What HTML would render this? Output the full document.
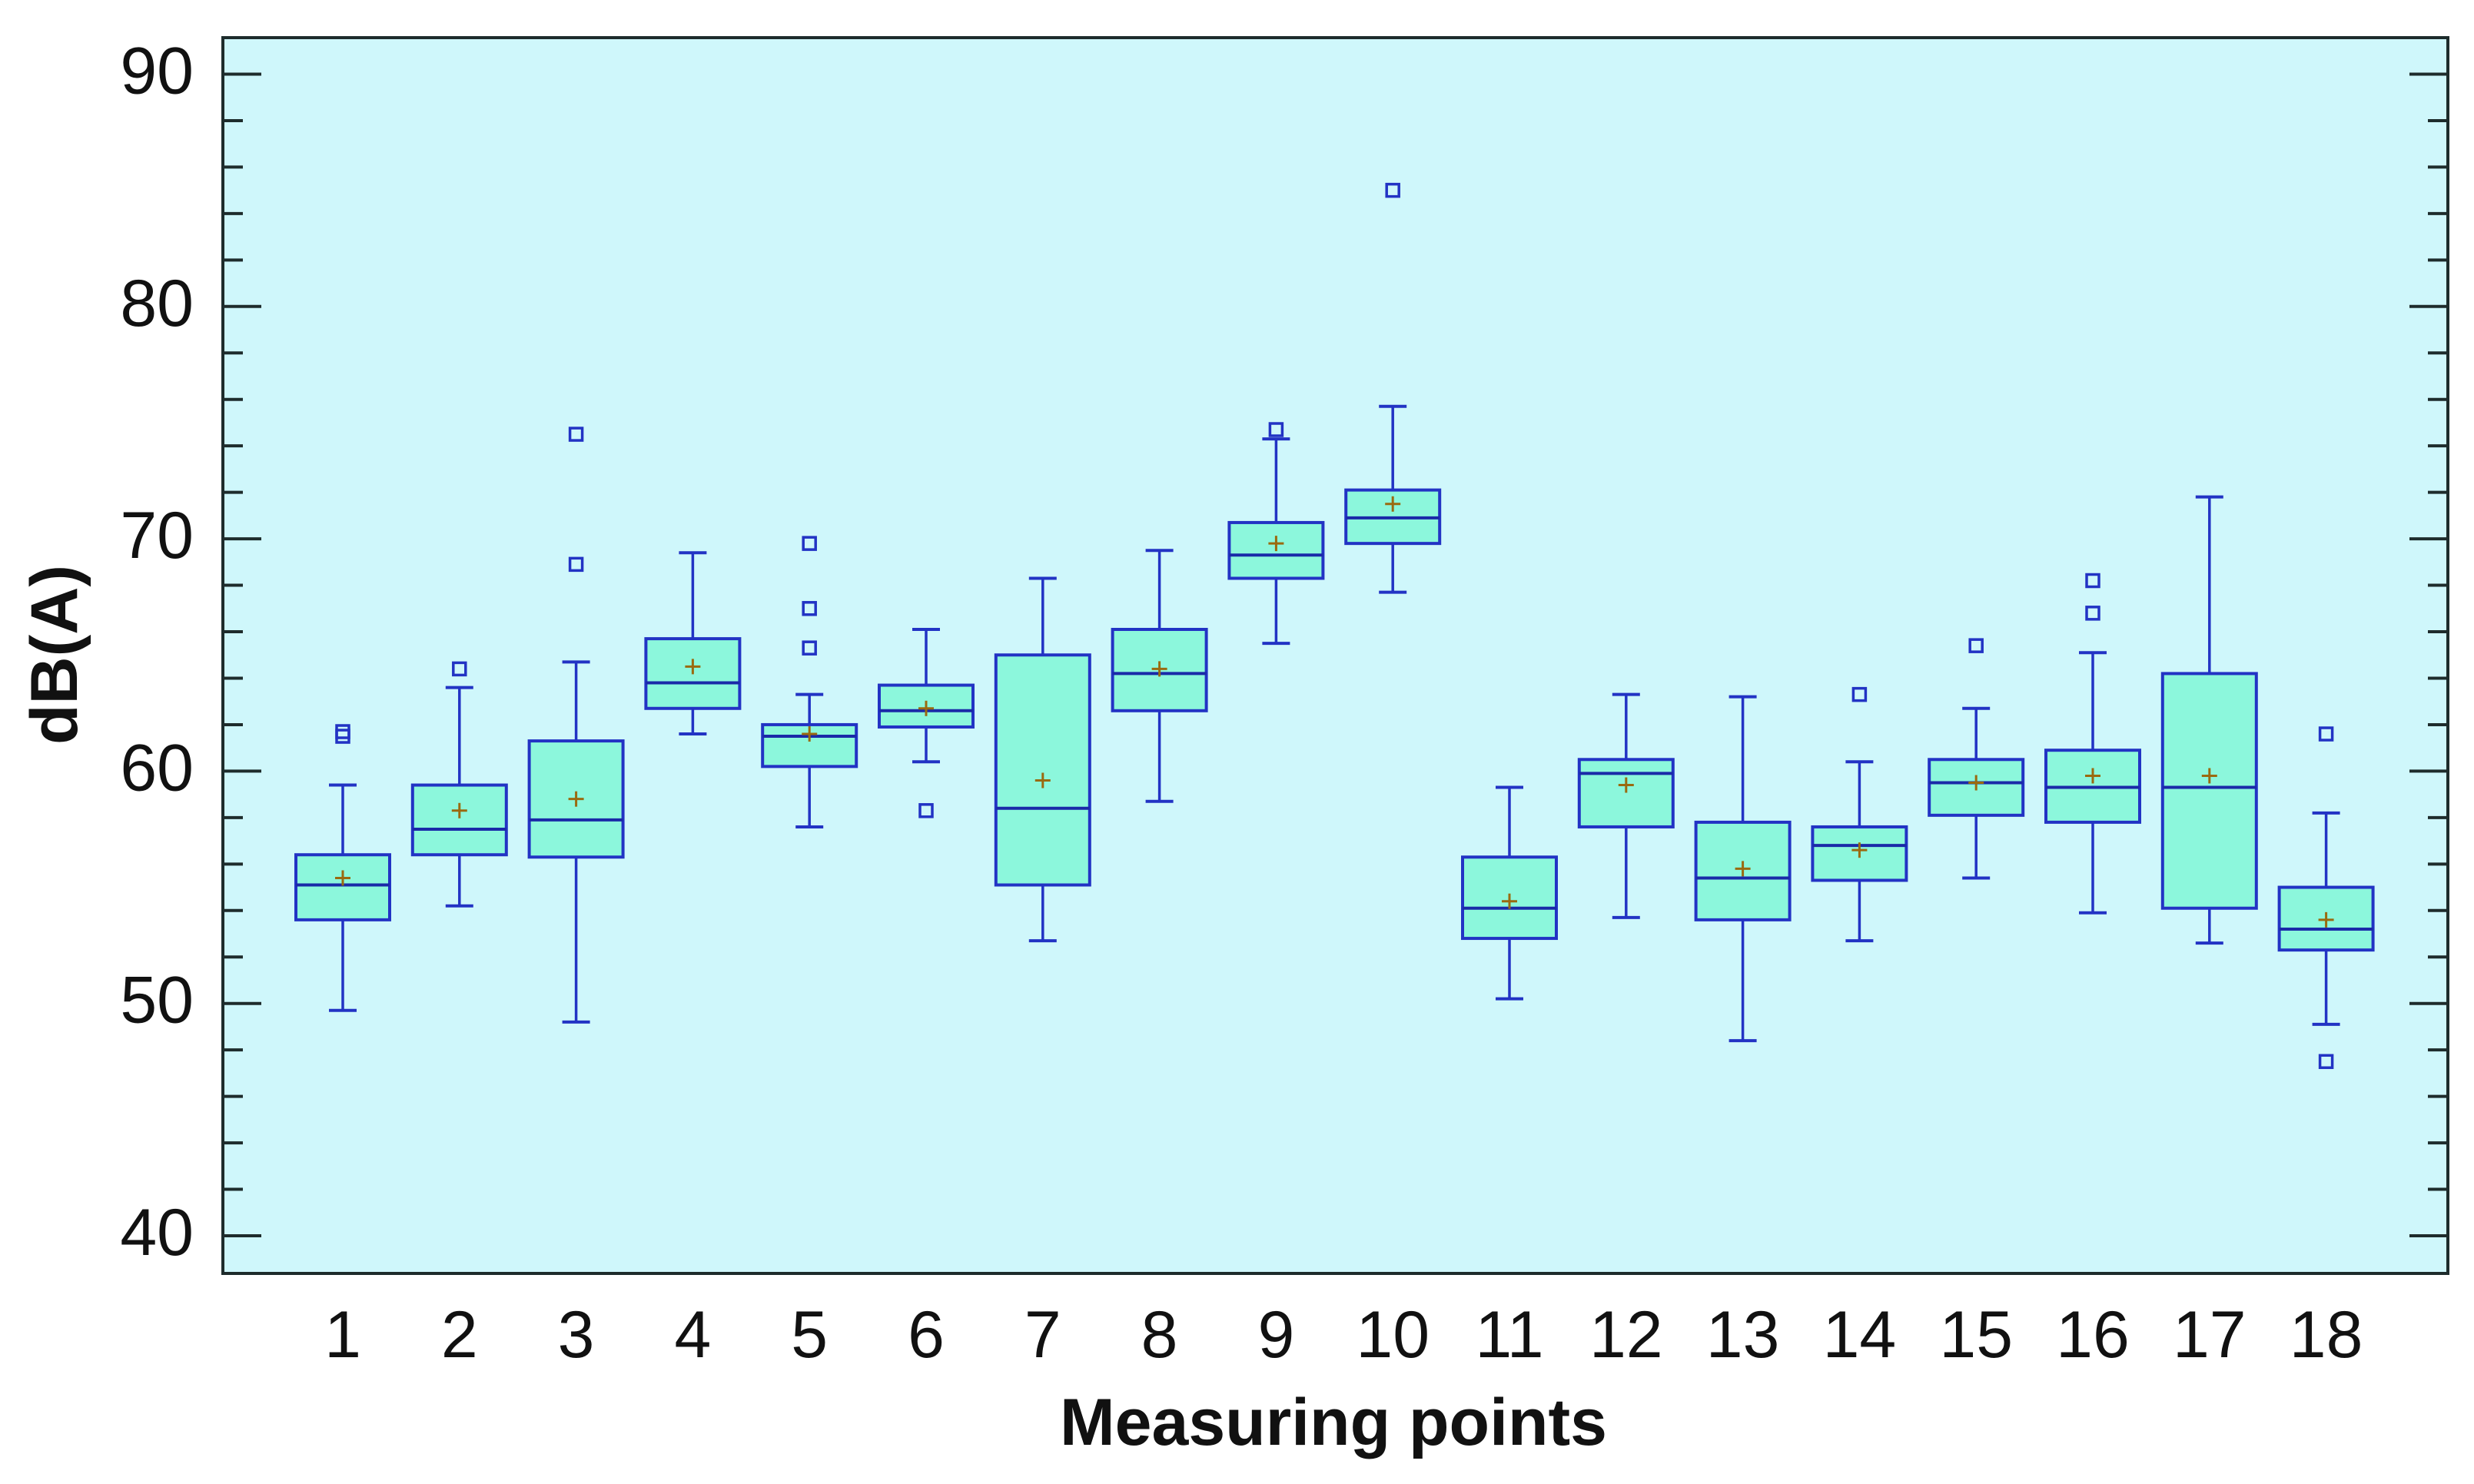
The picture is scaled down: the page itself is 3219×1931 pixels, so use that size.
<!DOCTYPE html>
<html><head><meta charset="utf-8"><style>
html,body{margin:0;padding:0;background:#fff;}
svg{display:block;font-family:"Liberation Sans",Arial,sans-serif;}
</style></head><body>
<svg id="chart" width="3219" height="1931" viewBox="0 0 3219 1931" xmlns="http://www.w3.org/2000/svg">
<rect x="290" y="49" width="2895" height="1608" fill="#cff7fb"/>
<g id="axes"></g>
<g id="marks"></g>
<rect x="290" y="49" width="2895" height="1608" fill="none" stroke="#1e2c2c" stroke-width="4"/>
<text x="1735" y="1880" font-size="86" font-weight="bold" text-anchor="middle" fill="#111">Measuring points</text>
<text transform="translate(100,852) rotate(-90)" font-size="86" font-weight="bold" text-anchor="middle" fill="#111">dB(A)</text>
</svg>
<script>
const categories = ["1","2","3","4","5","6","7","8","9","10","11","12","13","14","15","16","17","18"];
const whiskerLow = [49.7,54.2,49.2,61.6,57.6,60.4,52.7,58.7,65.5,67.7,50.2,53.7,48.4,52.7,55.4,53.9,52.6,49.1];
const q1 = [53.6,56.4,56.3,62.7,60.2,61.9,55.1,62.6,68.3,69.8,52.8,57.6,53.6,55.3,58.1,57.8,54.1,52.3];
const medians = [55.1,57.5,57.9,63.8,61.5,62.6,58.4,64.2,69.3,70.9,54.1,59.9,55.4,56.8,59.5,59.3,59.3,53.2];
const q3 = [56.4,59.4,61.3,65.7,62.0,63.7,65.0,66.1,70.7,72.1,56.3,60.5,57.8,57.6,60.5,60.9,64.2,55.0];
const whiskerHigh = [59.4,63.6,64.7,69.4,63.3,66.1,68.3,69.5,74.3,75.7,59.3,63.3,63.2,60.4,62.7,65.1,71.8,58.2];
const means = [55.4,58.3,58.8,64.5,61.6,62.7,59.6,64.4,69.8,71.5,54.4,59.4,55.8,56.6,59.5,59.8,59.8,53.6];
const outliers = [[61.7,61.5],[64.4],[74.5,68.9],[],[69.8,67.0,65.3],[58.3],[],[],[74.7],[85.0],[],[],[],[63.3],[65.4],[68.2,66.8],[],[61.6,47.5]];
const yTicks = [40,50,60,70,80,90];

const NS="http://www.w3.org/2000/svg";
const yMin=40,yMax=90,yTop=96.5,yBot=1608;
function yScale(v){return yBot-(v-yMin)*(yBot-yTop)/(yMax-yMin);}
function xScale(i){return 446+i*151.8;}
function mk(tag,attrs,parent){const e=document.createElementNS(NS,tag);for(const k in attrs)e.setAttribute(k,attrs[k]);parent.appendChild(e);return e;}
const axes=document.getElementById('axes'), marks=document.getElementById('marks');

for(let v=yMin; v<=yMax; v+=2){
  const y=yScale(v), major=(v%10===0), len=major?50:26;
  const t1=mk('line',{x1:290,x2:290+len,y1:y,y2:y,stroke:'#1e2c2c','stroke-width':4},axes);
  
  
  const t2=mk('line',{x1:3185-len,x2:3185,y1:y,y2:y,stroke:'#1e2c2c','stroke-width':4},axes);
  
  
}
yTicks.forEach(v=>{
  const t=mk('text',{x:252,y:yScale(v)+25,'font-size':86,'text-anchor':'end',fill:'#111'},axes);
  t.textContent=v;
  
  
});
categories.forEach((c,i)=>{
  const t=mk('text',{x:xScale(i),y:1766,'font-size':86,'text-anchor':'middle',fill:'#111'},axes);
  t.textContent=c;
  
  
});

const stroke='#2233c4', bw=122, cap=36;
categories.forEach((c,i)=>{
  const x=xScale(i);
  const g=mk('g',{},marks);
  
  
  mk('line',{x1:x,x2:x,y1:yScale(whiskerHigh[i]),y2:yScale(q3[i]),stroke:stroke,'stroke-width':3.5},g);
  mk('line',{x1:x,x2:x,y1:yScale(q1[i]),y2:yScale(whiskerLow[i]),stroke:stroke,'stroke-width':3.5},g);
  mk('line',{x1:x-cap/2,x2:x+cap/2,y1:yScale(whiskerHigh[i]),y2:yScale(whiskerHigh[i]),stroke:stroke,'stroke-width':4},g);
  mk('line',{x1:x-cap/2,x2:x+cap/2,y1:yScale(whiskerLow[i]),y2:yScale(whiskerLow[i]),stroke:stroke,'stroke-width':4},g);
  mk('rect',{x:x-bw/2,y:yScale(q3[i]),width:bw,height:yScale(q1[i])-yScale(q3[i]),fill:'#8cf7dc',stroke:stroke,'stroke-width':4},g);
  mk('line',{x1:x-bw/2,x2:x+bw/2,y1:yScale(medians[i]),y2:yScale(medians[i]),stroke:'#1a2aa8','stroke-width':4},g);
  const my=yScale(means[i]);
  mk('line',{x1:x-10,x2:x+10,y1:my,y2:my,stroke:'#9a6a10','stroke-width':3},g);
  mk('line',{x1:x,x2:x,y1:my-10,y2:my+10,stroke:'#9a6a10','stroke-width':3},g);
  outliers[i].forEach(v=>{
    const o=mk('rect',{x:x-8,y:yScale(v)-8,width:16,height:16,fill:'none',stroke:stroke,'stroke-width':3.5},g);
    
    
  });
});
</script>
</body></html>
